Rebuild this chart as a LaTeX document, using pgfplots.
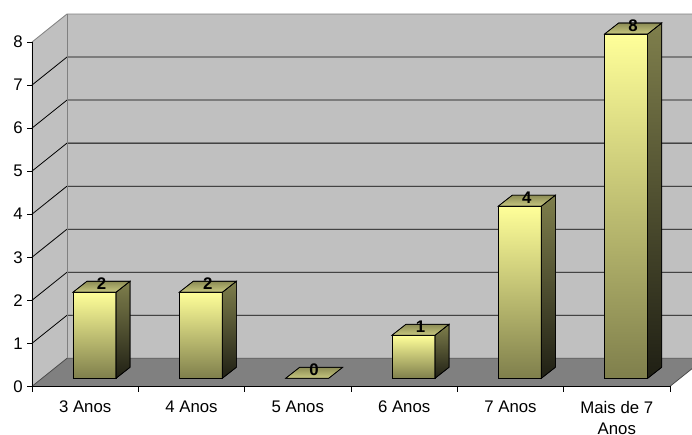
\documentclass[border=0pt]{standalone}
\usepackage{pgfplots}
\usepackage{pgfplotstable}
\pgfplotsset{compat=1.18}
\usepackage{fontspec}
\setmainfont{Liberation Sans}
\definecolor{wall}{HTML}{C0C0C0}
\definecolor{floorc}{HTML}{808080}
\definecolor{edgegray}{HTML}{808080}
\definecolor{ftop}{HTML}{FFFF99}
\definecolor{fbot}{HTML}{7F7F4C}
\definecolor{sbot}{HTML}{1F1F14}
\definecolor{ttop}{HTML}{8C8C55}
\definecolor{tbot}{HTML}{C8C880}
\pgfdeclareplotmark{empty}{}
\pgfplotstableread{
i v
0 2
1 2
2 0
3 1
4 4
5 8
}\data
\begin{document}
\begin{tikzpicture}
\begin{axis}[
  x=79.8pt, y=32.3pt,
  xmin=0, xmax=6, ymin=0, ymax=8,
  axis lines*=left,
  axis on top,
  clip=false,
  xtick={0.5,1.5,2.5,3.5,4.5,5.5},
  xticklabels={3 Anos,4 Anos,5 Anos,6 Anos,7 Anos,{Mais de 7\\Anos}},
  minor xtick={0,1,2,3,4,5,6},
  ytick={0,1,...,8},
  tick align=outside,
  major tick length=3.5pt,
  minor tick length=4pt,
  major x tick style={draw=none},
  tick style={black, line width=0.6pt},
  ticklabel style={font=\fontsize{12.6}{15.75}\selectfont},
  xticklabel style={align=center, yshift=-4pt},
  /pgf/number format/assume math mode=true,
  axis line style={black, line width=0.6pt},
]
% walls and floor
\fill[wall] (axis cs:0,0) -- (axis cs:0,8) -- (axis cs:0.329,8.651) -- (axis cs:6.5,8.651) -- (axis cs:6.5,0.651) -- (axis cs:0.329,0.651) -- cycle;
\fill[floorc] (axis cs:0,0) -- (axis cs:6,0) -- (axis cs:6.329,0.651) -- (axis cs:0.329,0.651) -- cycle;
\pgfplotsinvokeforeach{1,...,7}{
  \draw[black, line width=0.6pt] (axis cs:0,#1) -- (axis cs:0.329,#1.651) -- (axis cs:6.5,#1.651);
}
\draw[black!70, line width=0.6pt] (axis cs:0,0) -- (axis cs:0.329,0.651) -- (axis cs:6.5,0.651);
\draw[edgegray, line width=0.6pt] (axis cs:0,8) -- (axis cs:0.329,8.651) -- (axis cs:6.5,8.651);
\draw[edgegray, line width=0.6pt] (axis cs:0.329,0.651) -- (axis cs:0.329,8.651);
\draw[black!70, line width=0.6pt] (axis cs:6,0) -- (axis cs:6.329,0.651);
% bars
\addplot[scatter, only marks, mark=empty,
  point meta=explicit,
  visualization depends on={\thisrow{v}\as\val},
  scatter/@pre marker code/.code={%
    \begin{scope}[x=79.8pt,y=32.3pt]
      \ifdim\val pt>0pt
        \shade[top color=ftop,bottom color=fbot] (0,0) rectangle (0.405,\val);
        \draw[black,line width=0.5pt] (0,0) rectangle (0.405,\val);
        \shade[top color=fbot,bottom color=sbot] (0.405,0) -- (0.537,0.256) -- (0.537,\val+0.256) -- (0.405,\val) -- cycle;
        \draw[black,line width=0.5pt] (0.405,0) -- (0.537,0.256) -- (0.537,\val+0.256) -- (0.405,\val) -- cycle;
      \fi
      \shade[top color=ttop,bottom color=tbot] (0,\val) -- (0.132,\val+0.256) -- (0.537,\val+0.256) -- (0.405,\val) -- cycle;
      \draw[black,line width=0.5pt] (0,\val) -- (0.132,\val+0.256) -- (0.537,\val+0.256) -- (0.405,\val) -- cycle;
      \node[anchor=base,inner sep=0pt,font=\bfseries\fontsize{12.6}{14}\selectfont] at (0.268,\val+0.07) {\pgfmathprintnumber{\val}};
    \end{scope}
  },
  scatter/@post marker code/.code={},
] table[x expr=\thisrow{i}+0.385, y expr=0.186, meta=v] {\data};
\coordinate (bbsw) at (axis cs:-0.3009,-1.1163);
\coordinate (bbne) at (axis cs:6.2071,8.9767);
\end{axis}
\pgfresetboundingbox
\useasboundingbox (bbsw) rectangle (bbne);
\end{tikzpicture}
\end{document}
